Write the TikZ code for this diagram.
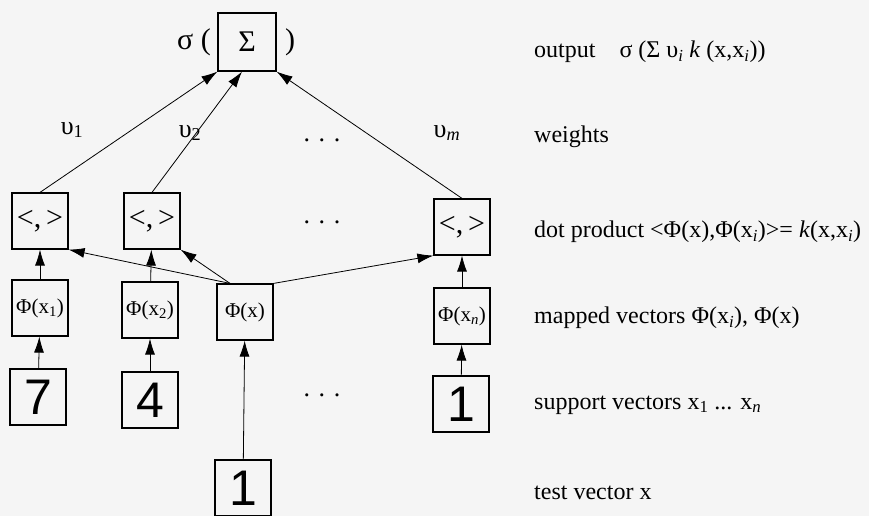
\documentclass[tikz,border=0pt]{standalone}
\usepackage{fontspec}
\setmainfont{Liberation Serif}
\newfontfamily\digitfont{Liberation Sans}
\usetikzlibrary{arrows.meta}
\newcommand\sub[1]{\textsubscript{#1}}

\begin{document}
\begin{tikzpicture}[x=1pt,y=-1pt,
  box/.style={draw, line width=1.2pt, minimum width=56pt, minimum height=56pt, inner sep=0pt},
  sumbox/.style={box, minimum width=58pt, minimum height=58pt, font=\fontsize{30}{32}\selectfont},
  dotbox/.style={box, font=\fontsize{30}{32}\selectfont},
  phibox/.style={box, font=\fontsize{21}{23}\selectfont},
  digbox/.style={box, font=\digitfont\fontsize{50}{52}\selectfont},
  conn/.style={line width=0.8pt, -{Latex[length=16pt,width=10pt]}},
  wlbl/.style={font=\fontsize{26}{28}\selectfont, inner sep=0pt},
  rlbl/.style={anchor=west, font=\fontsize{24}{26}\selectfont, inner sep=0pt},
]
\useasboundingbox (0,0) rectangle (869,516);
\fill[black!4] (0,0) rectangle (869,516);

% output unit
\node[sumbox] (sum) at (247,42) {Σ};
\node[font=\fontsize{30}{32}\selectfont, anchor=east, inner sep=0pt] (sigl) at (211,42) {σ (};
\node[font=\fontsize{30}{32}\selectfont, anchor=west, inner sep=0pt] (sigr) at (285,42) {)};

% dot products
\node[dotbox] (d1) at (40,221) {<,\,>};
\node[dotbox] (d2) at (152,221) {<,\,>};
\node[dotbox] (dn) at (462,227) {<,\,>};

% mapped vectors
\node[phibox] (p1) at (40,308) {Φ(x\sub{1})};
\node[phibox] (p2) at (150,310) {Φ(x\sub{2})};
\node[phibox] (px) at (245,312) {Φ(x)};
\node[phibox] (pn) at (462,316) {Φ(x\sub{\textit{n}})};

% support vectors and test vector
\node[digbox] (s1) at (38,397) {7};
\node[digbox] (s2) at (150,400) {4};
\node[digbox] (sn) at (461,404) {1};
\node[digbox] (t) at (243,488) {1};

% connections
\draw[conn] (s1) -- (p1);
\draw[conn] (s2) -- (p2);
\draw[conn] (sn) -- (pn);
\draw[conn] (t) -- (px);
\draw[conn] (p1) -- (d1);
\draw[conn] (p2) -- (d2);
\draw[conn] (pn) -- (dn);
\draw[conn] ([xshift=-15pt]px.north) -- (d1.south east);
\draw[conn] ([xshift=-15pt]px.north) -- (d2.south east);
\draw[conn] (px.north east) -- (dn.south west);
\draw[conn] (d1.north) -- (sum.south west);
\draw[conn] (d2.north) -- ([xshift=-5pt]sum.south);
\draw[conn] (dn.north) -- (sum.south east);

% weights
\node[wlbl] (w1) at (72,130) {υ\sub{1}};
\node[wlbl] (w2) at (190,133) {υ\sub{2}};
\node[wlbl] (wd) at (322,140) {. . .};
\node[wlbl] (wm) at (447,133) {υ\sub{\textit{m}}};
\node[wlbl] (dd) at (322,222) {. . .};
\node[wlbl] (sd) at (322,395) {. . .};

% layer descriptions
\node[rlbl] (l1) at (534,52) {output\quad σ (Σ υ\sub{\textit{i}} \textit{k} (x,x\sub{\textit{i}}))};
\node[rlbl] (l2) at (534,137) {weights};
\node[rlbl] (l3) at (534,232) {dot product <Φ(x),Φ(x\sub{\textit{i}})>= \textit{k}(x,x\sub{\textit{i}})};
\node[rlbl] (l4) at (534,318) {mapped vectors Φ(x\sub{\textit{i}}), Φ(x)};
\node[rlbl] (l5) at (534,405) {support vectors x\sub{1} ... x\sub{\textit{n}}};
\node[rlbl] (l6) at (534,493) {test vector x};
\end{tikzpicture}
\end{document}
